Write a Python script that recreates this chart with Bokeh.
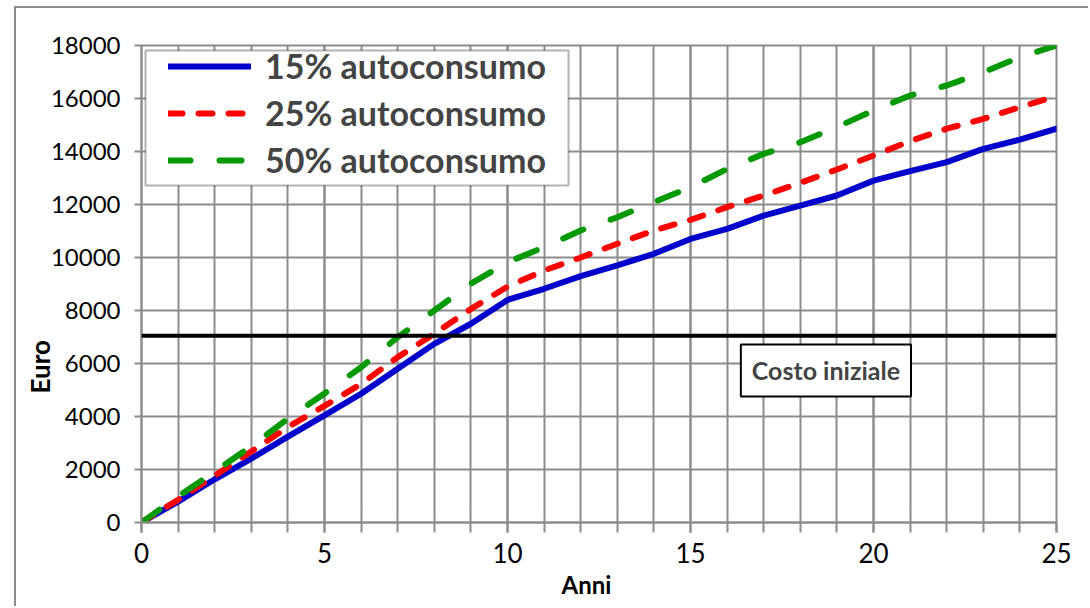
from bokeh.plotting import figure
from bokeh.models import (Range1d, SingleIntervalTicker, Legend, LegendItem, Span,
                          Label, BoxAnnotation, Title)
from bokeh.embed import file_html
from bokeh.resources import INLINE

# ---- data ----
anni = list(range(0, 26))
aut15 = [0, 790, 1630, 2410, 3240, 4040, 4860, 5800, 6740, 7500, 8400, 8820, 9300,
         9700, 10140, 10700, 11080, 11580, 11960, 12340, 12900, 13260, 13600, 14100,
         14450, 14860]
aut25 = [0, 860, 1760, 2680, 3600, 4400, 5230, 6240, 7120, 8060, 8900, 9510, 10000,
         10520, 11020, 11420, 11900, 12340, 12820, 13320, 13850, 14390, 14860, 15230,
         15670, 16100]
aut50 = [0, 980, 1920, 2880, 3920, 4870, 5860, 6990, 8000, 9010, 9820, 10390, 11020,
         11520, 12090, 12650, 13340, 13910, 14350, 14920, 15550, 16110, 16490, 16990,
         17560, 18000]
costo_iniziale = 7050
series_names = ["15% autoconsumo", "25% autoconsumo", "50% autoconsumo"]

FONT = "Lato"
GRID = "#8c8c8c"

# canvas placed at page (16, 8) thanks to margin + left/top border (outer chart frame)
p = figure(width=1074, height=600, output_backend="svg", toolbar_location=None,
           x_range=Range1d(0, 25), y_range=Range1d(0, 18000),
           min_border_left=125, min_border_right=34, min_border_top=37,
           min_border_bottom=86)
p.styles = {"margin-left": "14px", "margin-top": "6px",
            "border-left": "2px solid #8c8c8c", "border-top": "2px solid #8c8c8c"}
p.background_fill_color = "white"
p.border_fill_color = "white"

# axes
p.xaxis.ticker = SingleIntervalTicker(interval=5, num_minor_ticks=5)
p.yaxis.ticker = SingleIntervalTicker(interval=2000, num_minor_ticks=0)
for ax in (p.xaxis, p.yaxis):
    ax.axis_line_color = GRID
    ax.axis_line_width = 2
    ax.major_tick_line_color = GRID
    ax.minor_tick_line_color = GRID
    ax.major_tick_line_width = 2
    ax.minor_tick_line_width = 2
    ax.major_tick_in = 0
    ax.minor_tick_in = 0
    ax.major_label_text_font = FONT
    ax.major_label_text_color = "black"
p.xaxis.major_tick_out = 10
p.xaxis.minor_tick_out = 10
p.yaxis.major_tick_out = 7
p.yaxis.minor_tick_out = 0
p.xaxis.major_label_text_font_size = "26px"
p.yaxis.major_label_text_font_size = "24px"
p.xaxis.major_label_standoff = 10
p.yaxis.major_label_standoff = 14

# grid
p.xgrid.grid_line_color = GRID
p.xgrid.grid_line_width = 2
p.xgrid.minor_grid_line_color = GRID
p.xgrid.minor_grid_line_width = 2
p.ygrid.grid_line_color = GRID
p.ygrid.grid_line_width = 2

# top / right border of plot area
p.outline_line_color = GRID
p.outline_line_width = 2

# initial cost line
p.add_layout(Span(location=costo_iniziale, dimension="width", line_color="black",
                  line_width=4))

r15 = p.line(anni, aut15, line_color="#0000CC", line_width=6, line_cap="round",
             line_join="round")
r25 = p.line(anni, aut25, line_color="#FF0000", line_width=6, line_cap="round",
             line_dash="14 16")
r50 = p.line(anni, aut50, line_color="#009900", line_width=6, line_cap="round",
             line_dash="22 29")

# legend box (drawn separately so that the entries can sit with a wide left inset)
p.add_layout(BoxAnnotation(left=127, right=550, top=40, bottom=175,
                           left_units="canvas", right_units="canvas",
                           top_units="canvas", bottom_units="canvas",
                           fill_color="white", fill_alpha=1.0,
                           line_color="black", line_width=2))

legend = Legend(items=[LegendItem(label=series_names[0], renderers=[r15]),
                       LegendItem(label=series_names[1], renderers=[r25]),
                       LegendItem(label=series_names[2], renderers=[r50])],
                location=(27, 342), padding=0, margin=0, spacing=6,
                glyph_width=83, glyph_height=40, label_height=40,
                label_standoff=14,
                label_text_font=FONT, label_text_font_size="34px",
                label_text_font_style="bold",
                background_fill_alpha=0, border_line_alpha=0)
p.add_layout(legend)

p.add_layout(Label(x=18.7, y=5740, text="Costo iniziale", text_align="center",
                   text_baseline="middle", text_font=FONT, text_font_size="25px",
                   text_font_style="bold", border_line_color="black",
                   border_line_width=2, background_fill_color="white",
                   padding=11))

# axis titles
p.add_layout(Title(text="Euro", align="left", offset=129, standoff=-17,
                   text_font=FONT, text_font_size="26px", text_font_style="bold",
                   text_color="black"), "left")
p.add_layout(Title(text="Anni", align="left", offset=420, standoff=5,
                   text_font=FONT, text_font_size="24px", text_font_style="bold",
                   text_color="black"), "below")

open("out.html", "w").write(file_html(p, INLINE))
